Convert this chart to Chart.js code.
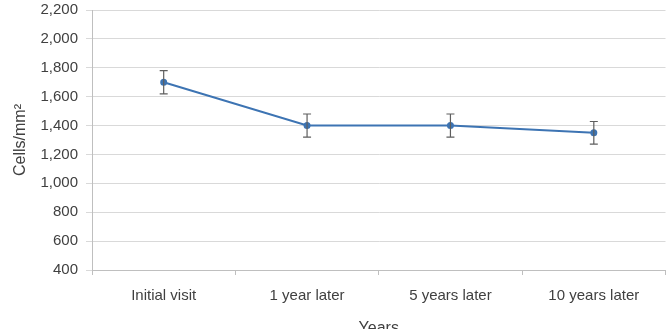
<!DOCTYPE html>
<html>
<head>
<meta charset="utf-8">
<script src="https://cdn.jsdelivr.net/npm/chart.js@4"></script>
<style>
html,body{margin:0;padding:0;background:#fff;overflow:hidden;}
#wrap{width:670px;height:329px;position:relative;overflow:hidden;}
#c{position:absolute;left:0;top:-7px;}
</style>
</head>
<body>
<div id="wrap"><canvas id="c" width="670" height="345"></canvas></div>
<script>
const categories = ["Initial visit", "1 year later", "5 years later", "10 years later"];
const cellDensity = [1700, 1400, 1400, 1350];
const errorValues = [80, 80, 80, 78];
const yTickMin = 400, yTickMax = 2200, yTickStep = 200;

const errorBarPlugin = {
  id: 'errorBars',
  afterDatasetsDraw(chart) {
    const ctx = chart.ctx;
    const y = chart.scales.y;
    const meta = chart.getDatasetMeta(0);
    ctx.save();
    ctx.strokeStyle = '#5e5e5e';
    ctx.lineWidth = 1.2;
    meta.data.forEach((pt, i) => {
      const v = cellDensity[i], e = errorValues[i];
      const top = y.getPixelForValue(v + e);
      const bot = y.getPixelForValue(v - e);
      const x = pt.x;
      ctx.beginPath();
      ctx.moveTo(x, top); ctx.lineTo(x, bot);
      ctx.moveTo(x - 4, top); ctx.lineTo(x + 4, top);
      ctx.moveTo(x - 4, bot); ctx.lineTo(x + 4, bot);
      ctx.stroke();
    });
    ctx.restore();
  }
};

new Chart(document.getElementById('c'), {
  type: 'line',
  data: {
    labels: categories,
    datasets: [{
      data: cellDensity,
      borderColor: '#3d74b3',
      backgroundColor: '#3d74b3',
      borderWidth: 2,
      pointRadius: 2.5,
      pointHoverRadius: 2.5,
      tension: 0,
      fill: false
    }]
  },
  options: {
    responsive: false,
    animation: false,
    devicePixelRatio: 1,
    layout: { padding: { left: 11, right: 2, top: 0, bottom: 0 } },
    plugins: { legend: { display: false }, tooltip: { enabled: false } },
    scales: {
      x: {
        offset: true,
        grid: { offset: true, drawOnChartArea: false, drawTicks: true, tickLength: 5, color: '#bfbfbf' },
        border: { color: '#bfbfbf', width: 1 },
        ticks: { color: '#404040', font: { family: 'Liberation Sans', size: 15 }, padding: 12, maxRotation: 0 },
        title: { display: true, text: 'Years', color: '#404040', font: { family: 'Liberation Sans', size: 16 }, padding: { top: 10, bottom: 0 } },
        afterFit(s) { s.height = 68; }
      },
      y: {
        min: yTickMin, max: yTickMax,
        grid: { color: '#d9d9d9', tickLength: 6, lineWidth: 1 },
        border: { color: '#bfbfbf', width: 1 },
        ticks: { stepSize: yTickStep, color: '#404040', font: { family: 'Liberation Sans', size: 15 }, padding: 8,
          callback: v => v.toLocaleString('en-US') },
        title: { display: true, text: 'Cells/mm\u00B2', color: '#404040', font: { family: 'Liberation Sans', size: 16 }, padding: { top: 0, bottom: 4 } },
        afterFit(s) { s.width = 81; }
      }
    }
  },
  plugins: [errorBarPlugin]
});
</script>
</body>
</html>
